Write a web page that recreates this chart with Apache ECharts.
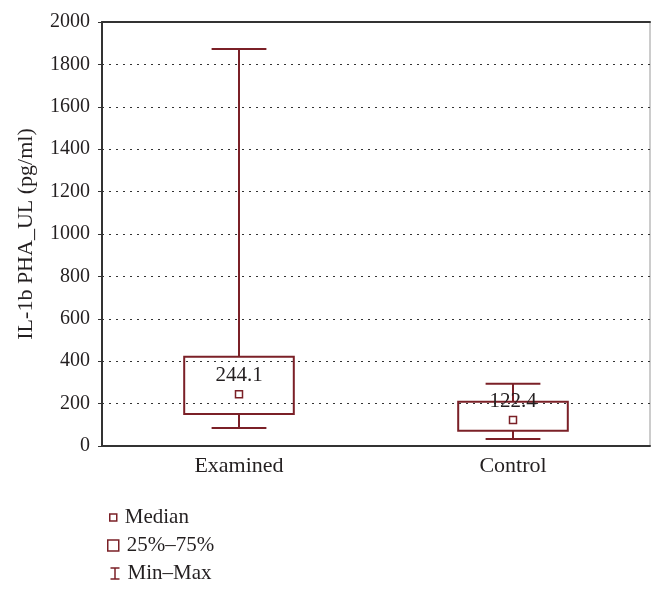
<!DOCTYPE html>
<html><head><meta charset="utf-8">
<script src="https://cdn.jsdelivr.net/npm/echarts@6/dist/echarts.min.js"></script>
<style>html,body{margin:0;padding:0;background:#fff}#c{width:665px;height:592px}</style>
</head><body><div id="c"></div>
<script>
const categories = ['Examined', 'Control'];
const minVals = [85, 33];
const q1Vals = [151, 72];
const medianVals = [244.1, 122.4];
const q3Vals = [421, 209];
const maxVals = [1873, 294];
const yTicks = [0, 200, 400, 600, 800, 1000, 1200, 1400, 1600, 1800, 2000];

const C = '#7b2027';
const FONT = 'Liberation Serif';
const TXT = '#231f20';

const whiskerData = categories.map((c, i) => [i, minVals[i], q1Vals[i], q3Vals[i], maxVals[i]]);
const boxData = categories.map((c, i) => [i, q1Vals[i], q3Vals[i]]);
const medianData = categories.map((c, i) => [i, medianVals[i]]);

const legendText = { fontFamily: FONT, fontSize: 21, color: TXT, padding: [0, 0, 0, 3] };

const chart = echarts.init(document.getElementById('c'));
chart.setOption({
  backgroundColor: '#fff',
  animation: false,
  grid: { left: 102, right: 15, top: 22, bottom: 146, show: true, borderColor: '#999', borderWidth: 1 },
  xAxis: [{
    type: 'category', data: categories, position: 'bottom',
    axisLine: { lineStyle: { color: '#333', width: 2 } },
    axisTick: { inside: true, alignWithLabel: true, length: 3, lineStyle: { color: '#333' } },
    axisLabel: { fontFamily: FONT, fontSize: 22, color: TXT, margin: 9 },
    splitLine: { show: false }
  }, {
    type: 'category', data: categories, position: 'top',
    axisLine: { lineStyle: { color: '#333', width: 2 } },
    axisTick: { show: false }, axisLabel: { show: false }
  }],
  yAxis: {
    type: 'value', min: 0, max: 2000, interval: 200,
    name: 'IL-1b PHA_UL (pg/ml)', nameLocation: 'middle', nameGap: 65,
    nameTextStyle: { fontFamily: FONT, fontSize: 22, color: TXT },
    axisLine: { show: true, lineStyle: { color: '#333', width: 2 } },
    axisTick: { show: true, length: 4, lineStyle: { color: '#333' } },
    axisLabel: { fontFamily: FONT, fontSize: 20, color: TXT, margin: 12,
      formatter: v => yTicks.includes(v) ? String(v) : '' },
    splitLine: { show: true, lineStyle: { color: '#333', width: 1, type: [2, 5] } }
  },
  legend: [{
    orient: 'vertical', left: 104, top: 502, itemWidth: 7, itemHeight: 7,
    textStyle: legendText,
    data: [{ name: 'Median', icon: 'rect', itemStyle: { color: '#fff', borderColor: C, borderWidth: 1.5 } }]
  }, {
    orient: 'vertical', left: 102, top: 530, itemWidth: 11, itemHeight: 11,
    textStyle: legendText,
    data: [{ name: '25%–75%', icon: 'rect', itemStyle: { color: '#fff', borderColor: C, borderWidth: 1.5 } }]
  }, {
    orient: 'vertical', left: 103, top: 558, itemWidth: 9, itemHeight: 11,
    textStyle: legendText,
    data: [{ name: 'Min–Max', icon: 'path://M0,0L10,0M5,0L5,12M0,12L10,12', itemStyle: { color: 'none', borderColor: C, borderWidth: 1.5 } }]
  }],
  series: [{
    name: 'Min–Max', type: 'custom', data: whiskerData, z: 2,
    itemStyle: { color: 'none', borderColor: C },
    encode: { x: 0, y: [1, 4] },
    renderItem: (params, api) => {
      const x = api.value(0);
      const pMin = api.coord([x, api.value(1)]);
      const pQ1 = api.coord([x, api.value(2)]);
      const pQ3 = api.coord([x, api.value(3)]);
      const pMax = api.coord([x, api.value(4)]);
      const band = api.size([1, 0])[0];
      const h = band * 0.1;
      const st = { stroke: C, lineWidth: 2 };
      return { type: 'group', children: [
        { type: 'line', shape: { x1: pMax[0], y1: pMax[1], x2: pQ3[0], y2: pQ3[1] }, style: st },
        { type: 'line', shape: { x1: pQ1[0], y1: pQ1[1], x2: pMin[0], y2: pMin[1] }, style: st },
        { type: 'line', shape: { x1: pMax[0] - h, y1: pMax[1], x2: pMax[0] + h, y2: pMax[1] }, style: st },
        { type: 'line', shape: { x1: pMin[0] - h, y1: pMin[1], x2: pMin[0] + h, y2: pMin[1] }, style: st }
      ] };
    }
  }, {
    name: '25%–75%', type: 'custom', data: boxData, z: 3,
    itemStyle: { color: '#fff', borderColor: C },
    encode: { x: 0, y: [1, 2] },
    renderItem: (params, api) => {
      const x = api.value(0);
      const p1 = api.coord([x, api.value(1)]);
      const p3 = api.coord([x, api.value(2)]);
      const band = api.size([1, 0])[0];
      const w = band * 0.4;
      return { type: 'rect', shape: { x: p1[0] - w / 2, y: p3[1], width: w, height: p1[1] - p3[1] },
        style: { fill: 'rgba(255,255,255,0)', stroke: C, lineWidth: 2 } };
    }
  }, {
    name: 'Median', type: 'custom', data: medianData, z: 4,
    itemStyle: { color: '#fff', borderColor: C },
    encode: { x: 0, y: 1 },
    renderItem: (params, api) => {
      const x = api.value(0);
      const v = api.value(1);
      const p = api.coord([x, v]);
      return { type: 'group', children: [
        { type: 'rect', shape: { x: p[0] - 3.5, y: p[1] - 3.5, width: 7, height: 7 },
          style: { fill: '#fff', stroke: C, lineWidth: 1.5 } },
        { type: 'text', x: p[0], y: p[1] - 19,
          style: { text: v.toFixed(1), fontFamily: FONT, fontSize: 21, fill: TXT, align: 'center', verticalAlign: 'middle' } }
      ] };
    }
  }]
});
</script></body></html>
